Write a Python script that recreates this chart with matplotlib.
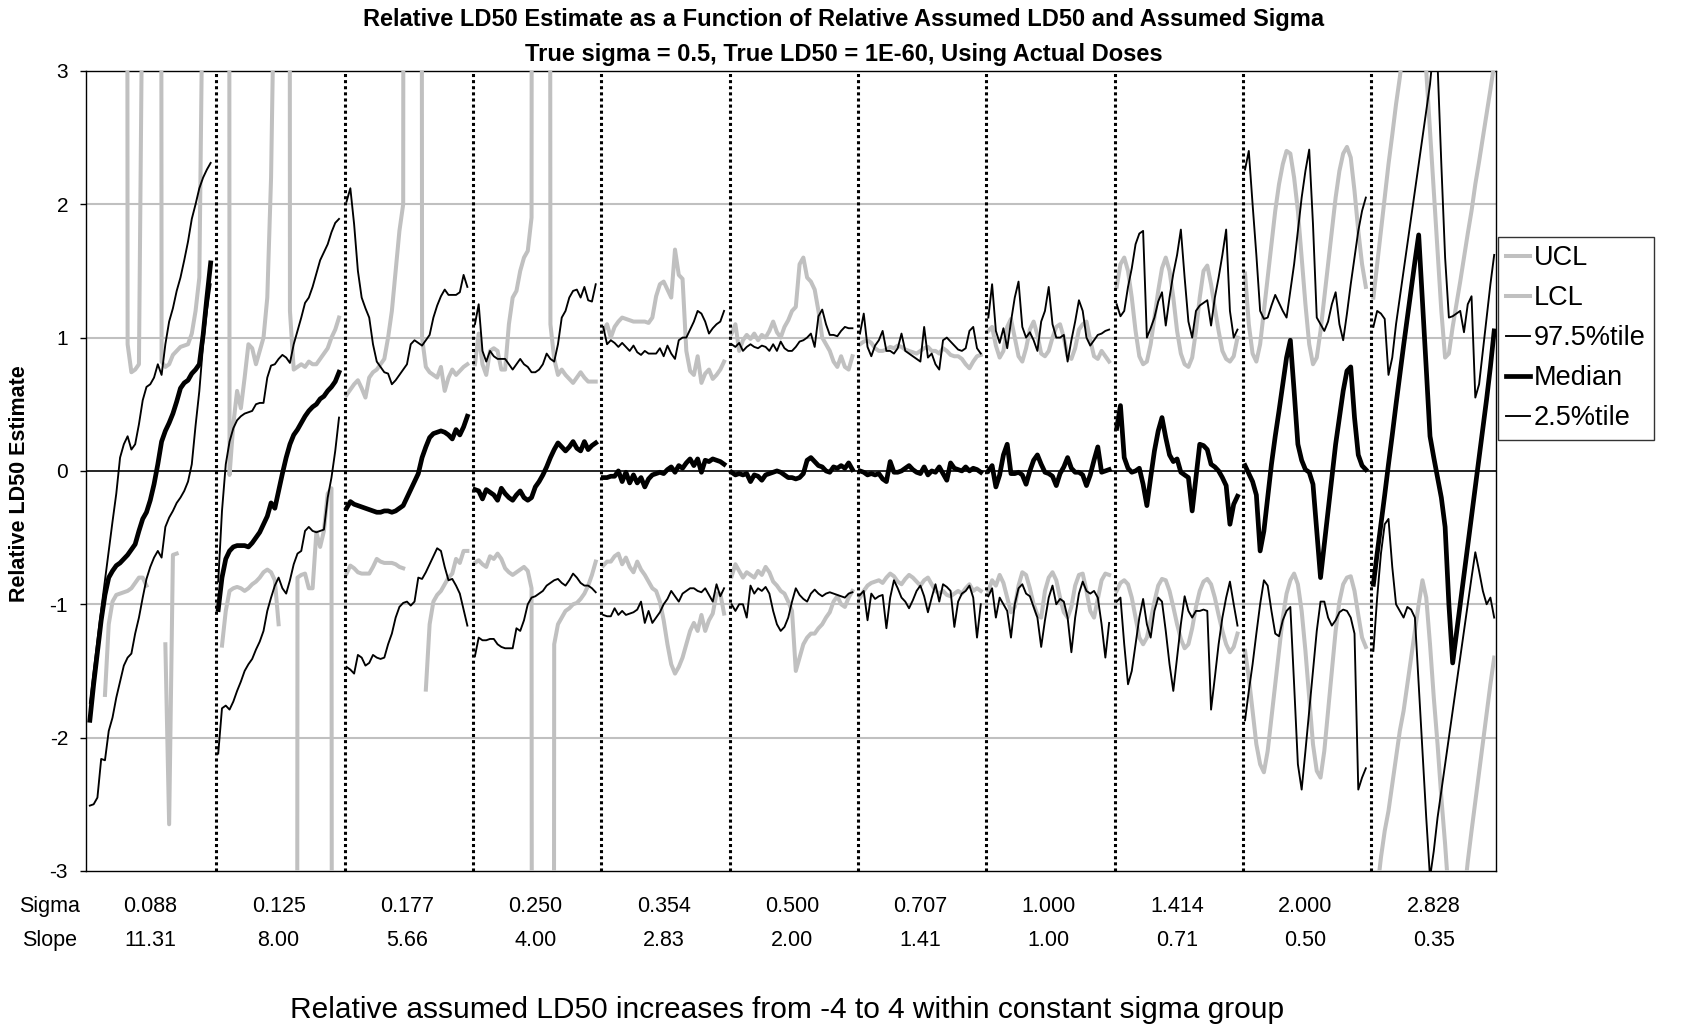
import numpy as np
import matplotlib.pyplot as plt

plt.rcParams['font.family'] = ['Liberation Sans', 'DejaVu Sans']
plt.rcParams['axes.unicode_minus'] = False

nan = np.nan
OFF = 40  # value well outside the +-3 axis, line gets clipped

sigma_labels = ["0.088", "0.125", "0.177", "0.250", "0.354", "0.500",
                "0.707", "1.000", "1.414", "2.000", "2.828"]
slope_labels = ["11.31", "8.00", "5.66", "4.00", "2.83", "2.00",
                "1.41", "1.00", "0.71", "0.50", "0.35"]

# one list per sigma group, 33 assumed-LD50 steps (-4 .. 4)
ucl = [
    [OFF, OFF, OFF, OFF, OFF, OFF, OFF, OFF, OFF, OFF, 0.95, 0.74, 0.76, 0.8, 4, OFF, OFF, OFF, OFF, 0.82, 0.78, 0.8, 0.87, 0.9, 0.93, 0.94, 0.95, 1.03, 1.2, 1.45, 4, OFF, OFF],
    [OFF, OFF, 60, -0.03, 0.35, 0.6, 0.47, 0.7, 0.95, 0.92, 0.8, 0.9, 1.0, 1.3, 2.2, 4, OFF, OFF, 60, 1.2, 0.76, 0.78, 0.8, 0.78, 0.82, 0.8, 0.8, 0.84, 0.88, 0.92, 1.0, 1.06, 1.15],
    [0.57, 0.61, 0.65, 0.68, 0.62, 0.55, 0.7, 0.74, 0.76, 0.8, 0.84, 1.0, 1.2, 1.5, 1.8, 2.0, OFF, OFF, OFF, OFF, 1.0, 0.78, 0.74, 0.72, 0.7, 0.78, 0.6, 0.7, 0.76, 0.72, 0.75, 0.78, 0.8],
    [0.8, 1.03, 0.8, 0.72, 0.9, 0.92, 0.9, 0.76, 0.76, 1.1, 1.3, 1.35, 1.5, 1.6, 1.65, 1.9, OFF, OFF, OFF, OFF, 1.1, 0.84, 0.72, 0.76, 0.72, 0.69, 0.66, 0.7, 0.74, 0.7, 0.67, 0.67, 0.67],
    [1.05, 1.1, 1.0, 1.08, 1.12, 1.15, 1.14, 1.13, 1.12, 1.12, 1.12, 1.12, 1.11, 1.15, 1.31, 1.4, 1.42, 1.36, 1.3, 1.66, 1.47, 1.44, 0.9, 0.75, 0.72, 0.86, 0.66, 0.73, 0.76, 0.69, 0.72, 0.76, 0.82],
    [1.03, 1.1, 0.9, 0.98, 1.02, 0.99, 1.03, 0.98, 1.02, 1.0, 1.05, 1.12, 1.04, 1.0, 1.08, 1.13, 1.2, 1.23, 1.55, 1.6, 1.45, 1.42, 1.36, 1.2, 1.0, 0.95, 0.9, 0.82, 0.78, 0.86, 0.78, 0.76, 0.86],
    [0.95, 0.97, 0.98, 0.96, 0.92, 0.9, 0.9, 0.91, 0.93, 0.92, 0.94, 0.93, 0.91, 0.9, 0.89, 0.88, 0.9, 0.92, 0.93, 0.9, 0.9, 0.88, 0.92, 0.9, 0.87, 0.86, 0.86, 0.84, 0.8, 0.77, 0.82, 0.86, 0.87],
    [1.05, 1.08, 0.94, 0.85, 0.9, 1.08, 1.14, 1.0, 0.86, 0.82, 0.92, 1.06, 1.12, 1.02, 0.88, 0.86, 0.9, 1.0, 1.08, 1.1, 1.0, 0.86, 0.84, 0.92, 1.06, 1.1, 1.12, 0.98, 0.86, 0.84, 0.9, 0.86, 0.82],
    [1.38, 1.55, 1.6, 1.5, 1.3, 1.05, 0.86, 0.8, 0.82, 0.95, 1.15, 1.35, 1.52, 1.6, 1.5, 1.3, 1.05, 0.88, 0.8, 0.78, 0.85, 1.05, 1.3, 1.5, 1.54, 1.4, 1.22, 1.05, 0.9, 0.84, 0.82, 0.86, 1.0],
    [1.48, 1.1, 0.88, 0.82, 0.95, 1.2, 1.45, 1.7, 1.95, 2.15, 2.3, 2.4, 2.38, 2.2, 1.95, 1.6, 1.25, 0.95, 0.8, 0.85, 1.05, 1.3, 1.55, 1.8, 2.05, 2.25, 2.38, 2.43, 2.35, 2.1, 1.8, 1.55, 1.38],
    [1.3, 1.55, 1.8, 2.05, 2.3, 2.52, 2.75, 2.95, 3.2, 3.4, 3.6, 3.7, 3.7, 3.5, 3.0, 2.55, 2.1, 1.65, 1.2, 0.85, 0.88, 1.08, 1.25, 1.42, 1.6, 1.78, 1.95, 2.15, 2.32, 2.5, 2.68, 2.86, 3.05],
]
lcl = [
    [nan, nan, nan, nan, -1.68, -1.15, -0.98, -0.93, -0.92, -0.91, -0.9, -0.88, -0.84, -0.8, -0.8, -0.86, nan, nan, nan, nan, -1.3, -2.65, -0.63, -0.62, nan, nan, nan, nan, nan, nan, nan, nan, nan],
    [nan, -1.31, -1.05, -0.9, -0.88, -0.87, -0.88, -0.9, -0.88, -0.85, -0.83, -0.8, -0.76, -0.74, -0.76, -0.82, -1.15, nan, nan, nan, -OFF, -0.8, -0.78, -0.77, -0.88, -0.88, -0.46, -0.57, -0.45, -0.17, -0.13, -OFF, -OFF],
    [-0.77, -0.71, -0.73, -0.76, -0.77, -0.77, -0.77, -0.72, -0.66, -0.68, -0.69, -0.69, -0.69, -0.7, -0.72, -0.73, nan, nan, nan, nan, nan, -1.64, -1.15, -0.98, -0.93, -0.9, -0.85, -0.8, -0.77, -0.66, -0.69, -0.6, -0.6],
    [-0.69, -0.67, -0.7, -0.72, -0.64, -0.66, -0.62, -0.66, -0.73, -0.76, -0.78, -0.76, -0.74, -0.72, -0.75, -0.88, -OFF, -OFF, -OFF, -OFF, -OFF, -1.3, -1.15, -1.1, -1.05, -1.03, -1.0, -0.99, -0.96, -0.92, -0.86, -0.78, -0.68],
    [-0.71, -0.68, -0.68, -0.64, -0.62, -0.7, -0.65, -0.72, -0.76, -0.68, -0.74, -0.78, -0.83, -0.88, -0.9, -0.98, -1.12, -1.3, -1.45, -1.52, -1.47, -1.4, -1.3, -1.2, -1.14, -1.2, -1.08, -1.2, -1.12, -1.07, -0.92, -0.92, -1.07],
    [-0.79, -0.7, -0.75, -0.8, -0.76, -0.78, -0.8, -0.75, -0.78, -0.72, -0.76, -0.83, -0.86, -0.9, -0.92, -0.98, -1.05, -1.5, -1.4, -1.3, -1.25, -1.22, -1.22, -1.18, -1.15, -1.1, -1.06, -0.98, -0.94, -1.0, -1.02, -0.95, -0.9],
    [-0.95, -0.9, -0.86, -0.84, -0.83, -0.82, -0.84, -0.8, -0.77, -0.79, -0.83, -0.85, -0.81, -0.78, -0.8, -0.83, -0.86, -0.82, -0.8, -0.85, -0.9, -0.92, -0.9, -0.93, -0.94, -0.92, -0.9, -0.92, -0.88, -0.85, -0.9, -0.88, -0.9],
    [-0.9, -0.82, -0.86, -0.78, -0.84, -0.95, -1.06, -1.02, -0.86, -0.76, -0.78, -0.88, -1.0, -1.08, -1.1, -0.9, -0.8, -0.76, -0.82, -0.95, -1.06, -1.1, -1.02, -0.86, -0.78, -0.77, -0.9, -1.05, -1.1, -0.96, -0.82, -0.77, -0.78],
    [-0.9, -0.84, -0.82, -0.85, -0.95, -1.1, -1.25, -1.3, -1.25, -1.12, -0.98, -0.86, -0.81, -0.82, -0.9, -1.02, -1.15, -1.26, -1.33, -1.3, -1.18, -1.02, -0.9, -0.83, -0.81, -0.85, -0.95, -1.08, -1.2, -1.3, -1.36, -1.32, -1.22],
    [-1.35, -1.55, -1.8, -2.05, -2.2, -2.26, -2.1, -1.85, -1.6, -1.35, -1.1, -0.92, -0.82, -0.77, -0.85, -1.05, -1.35, -1.7, -2.05, -2.25, -2.3, -2.1, -1.8, -1.5, -1.2, -0.98, -0.85, -0.8, -0.79, -0.9, -1.08, -1.25, -1.32],
    [-3.35, -3.15, -2.9, -2.7, -2.55, -2.35, -2.15, -1.95, -1.8, -1.6, -1.4, -1.2, -1.0, -0.82, -0.95, -1.3, -1.7, -2.05, -2.45, -2.8, -3.2, -3.5, -3.6, -3.5, -3.2, -2.93, -2.7, -2.48, -2.26, -2.04, -1.82, -1.6, -1.4],
]
p975 = [
    [-1.74, -1.5, -1.27, -1.04, -0.82, -0.6, -0.38, -0.17, 0.1, 0.2, 0.26, 0.16, 0.2, 0.35, 0.53, 0.63, 0.65, 0.7, 0.8, 0.72, 0.95, 1.12, 1.22, 1.35, 1.45, 1.58, 1.72, 1.89, 2.0, 2.12, 2.2, 2.26, 2.31],
    [-0.83, -0.3, 0.05, 0.22, 0.32, 0.38, 0.41, 0.43, 0.44, 0.45, 0.5, 0.51, 0.51, 0.7, 0.79, 0.8, 0.84, 0.87, 0.85, 0.81, 0.95, 1.05, 1.15, 1.26, 1.3, 1.38, 1.48, 1.58, 1.64, 1.7, 1.79, 1.86, 1.89],
    [2.02, 2.12, 1.85, 1.5, 1.3, 1.22, 1.15, 0.95, 0.82, 0.78, 0.74, 0.73, 0.65, 0.68, 0.72, 0.76, 0.8, 0.95, 0.98, 0.96, 0.94, 0.98, 1.02, 1.15, 1.24, 1.31, 1.36, 1.32, 1.32, 1.32, 1.34, 1.47, 1.38],
    [1.1, 1.25, 0.9, 0.82, 0.9, 0.86, 0.84, 0.84, 0.84, 0.8, 0.76, 0.8, 0.84, 0.8, 0.78, 0.74, 0.74, 0.76, 0.8, 0.88, 0.84, 0.82, 0.95, 1.15, 1.2, 1.3, 1.35, 1.36, 1.3, 1.38, 1.28, 1.27, 1.4],
    [1.08, 0.95, 0.98, 0.96, 0.93, 0.96, 0.93, 0.9, 0.94, 0.89, 0.87, 0.9, 0.88, 0.88, 0.88, 0.92, 0.86, 0.94, 0.88, 0.84, 0.98, 1.0, 1.0, 1.06, 1.12, 1.2, 1.18, 1.12, 1.03, 1.07, 1.1, 1.12, 1.2],
    [0.95, 0.93, 0.96, 0.9, 0.93, 0.95, 0.93, 0.92, 0.94, 0.93, 0.9, 0.95, 0.9, 0.97, 0.92, 0.9, 0.9, 0.93, 0.97, 0.98, 1.0, 1.03, 0.93, 1.16, 1.21, 1.1, 1.02, 1.02, 1.01, 1.05, 1.08, 1.07, 1.07],
    [1.03, 1.18, 0.93, 0.86, 0.94, 0.98, 1.05, 0.9, 0.9, 0.88, 0.92, 1.03, 0.9, 0.88, 0.86, 0.84, 0.82, 1.08, 0.85, 0.88, 0.8, 0.76, 0.98, 1.0, 0.97, 0.94, 0.91, 0.9, 0.92, 1.05, 1.08, 0.92, 0.88],
    [1.15, 1.4, 1.05, 0.96, 1.07, 0.92, 1.12, 1.3, 1.42, 1.08, 1.0, 1.04, 0.98, 0.9, 1.12, 1.2, 1.38, 1.1, 1.0, 1.0, 1.02, 0.82, 0.98, 1.12, 1.28, 1.2, 1.0, 0.94, 0.98, 1.02, 1.03, 1.05, 1.06],
    [1.25, 1.16, 1.2, 1.38, 1.52, 1.7, 1.78, 1.8, 1.0, 1.07, 1.15, 1.27, 1.34, 1.09, 1.3, 1.48, 1.62, 1.81, 1.45, 1.12, 1.0, 1.2, 1.24, 1.26, 1.28, 1.09, 1.3, 1.45, 1.62, 1.81, 1.2, 1.0, 1.06],
    [2.26, 2.4, 2.0, 1.62, 1.2, 1.14, 1.15, 1.24, 1.32, 1.26, 1.2, 1.15, 1.35, 1.55, 1.8, 2.05, 2.25, 2.41, 1.85, 1.15, 1.1, 1.05, 1.12, 1.25, 1.34, 1.1, 0.98, 1.18, 1.4, 1.6, 1.8, 1.95, 2.05],
    [1.08, 1.2, 1.18, 1.14, 0.72, 0.85, 1.1, 1.3, 1.5, 1.7, 1.9, 2.1, 2.3, 2.5, 2.7, 2.9, 3.2, 3.05, 2.3, 1.6, 1.15, 1.16, 1.18, 1.2, 1.04, 1.25, 1.31, 0.55, 0.65, 0.9, 1.15, 1.4, 1.62],
]
median = [
    [-1.87, -1.6, -1.36, -1.12, -0.93, -0.8, -0.75, -0.71, -0.69, -0.66, -0.63, -0.59, -0.55, -0.45, -0.36, -0.31, -0.22, -0.1, 0.05, 0.22, 0.3, 0.36, 0.43, 0.52, 0.62, 0.66, 0.68, 0.73, 0.76, 0.8, 1.02, 1.3, 1.56],
    [-1.04, -0.8, -0.66, -0.6, -0.57, -0.56, -0.56, -0.56, -0.57, -0.54, -0.5, -0.46, -0.4, -0.34, -0.24, -0.28, -0.15, -0.02, 0.1, 0.2, 0.27, 0.31, 0.36, 0.41, 0.45, 0.48, 0.5, 0.54, 0.56, 0.6, 0.63, 0.67, 0.74],
    [-0.28, -0.23, -0.25, -0.26, -0.27, -0.28, -0.29, -0.3, -0.31, -0.31, -0.3, -0.3, -0.31, -0.3, -0.28, -0.26, -0.2, -0.14, -0.08, -0.02, 0.1, 0.18, 0.25, 0.28, 0.29, 0.3, 0.29, 0.27, 0.24, 0.31, 0.27, 0.33, 0.41],
    [-0.14, -0.15, -0.21, -0.14, -0.16, -0.18, -0.22, -0.13, -0.17, -0.2, -0.22, -0.18, -0.15, -0.2, -0.22, -0.2, -0.12, -0.08, -0.03, 0.03, 0.1, 0.16, 0.21, 0.18, 0.15, 0.18, 0.22, 0.17, 0.15, 0.22, 0.16, 0.19, 0.21],
    [-0.05, -0.05, -0.04, -0.04, 0.0, -0.08, -0.01, -0.09, -0.03, -0.09, -0.05, -0.12, -0.06, -0.03, -0.02, -0.01, -0.02, 0.01, 0.03, -0.01, 0.04, 0.02, 0.06, 0.09, 0.04, 0.09, -0.01, 0.08, 0.07, 0.09, 0.08, 0.07, 0.05],
    [-0.01, -0.03, -0.02, -0.03, -0.02, -0.08, -0.03, -0.04, -0.07, -0.03, -0.02, -0.01, 0.0, -0.01, -0.03, -0.05, -0.05, -0.06, -0.05, -0.02, 0.08, 0.1, 0.07, 0.04, 0.03, 0.0, -0.01, 0.03, 0.02, 0.04, 0.02, 0.06, 0.01],
    [0.0, -0.01, -0.03, -0.02, -0.03, -0.02, -0.06, -0.08, 0.07, -0.01, -0.01, 0.0, 0.02, 0.04, 0.01, -0.01, -0.02, 0.03, -0.03, 0.0, -0.01, 0.03, -0.02, -0.07, 0.06, 0.02, 0.01, 0.0, 0.03, 0.0, 0.02, 0.01, -0.01],
    [0.0, 0.04, -0.12, -0.03, 0.12, 0.2, -0.02, -0.02, -0.01, -0.03, -0.1, 0.0, 0.08, 0.12, 0.05, -0.01, -0.02, -0.04, -0.11, -0.02, 0.03, 0.1, 0.02, -0.01, -0.01, -0.03, -0.11, -0.03, 0.08, 0.18, -0.01, 0.0, 0.01],
    [0.32, 0.49, 0.1, 0.02, -0.01, 0.0, 0.02, -0.1, -0.26, -0.05, 0.15, 0.3, 0.4, 0.25, 0.12, 0.07, 0.09, -0.01, -0.03, -0.05, -0.3, -0.05, 0.2, 0.19, 0.16, 0.05, 0.03, 0.0, -0.05, -0.11, -0.4, -0.25, -0.19],
    [0.04, -0.02, -0.08, -0.18, -0.6, -0.45, -0.2, 0.05, 0.26, 0.45, 0.65, 0.85, 0.98, 0.6, 0.2, 0.08, 0.01, -0.01, -0.1, -0.45, -0.8, -0.55, -0.3, -0.05, 0.2, 0.4, 0.6, 0.75, 0.78, 0.4, 0.12, 0.04, 0.01],
    [-0.85, -0.62, -0.4, -0.18, 0.05, 0.27, 0.5, 0.72, 0.94, 1.15, 1.36, 1.57, 1.77, 1.27, 0.77, 0.26, 0.1, -0.05, -0.2, -0.42, -1.0, -1.44, -1.22, -1.0, -0.78, -0.56, -0.34, -0.12, 0.1, 0.32, 0.54, 0.78, 1.05],
]
p025 = [
    [-2.51, -2.5, -2.45, -2.16, -2.17, -1.95, -1.85, -1.7, -1.58, -1.46, -1.4, -1.37, -1.22, -1.1, -0.95, -0.81, -0.72, -0.65, -0.6, -0.65, -0.42, -0.35, -0.3, -0.24, -0.2, -0.15, -0.08, 0.05, 0.34, 0.6, 0.95, 1.2, 1.4],
    [-2.12, -1.78, -1.76, -1.79, -1.73, -1.65, -1.58, -1.5, -1.45, -1.41, -1.34, -1.28, -1.2, -1.05, -0.95, -0.86, -0.8, -0.88, -0.92, -0.82, -0.7, -0.62, -0.6, -0.45, -0.42, -0.45, -0.46, -0.45, -0.44, -0.2, -0.05, 0.15, 0.4],
    [-1.47, -1.49, -1.52, -1.38, -1.4, -1.46, -1.44, -1.38, -1.4, -1.41, -1.4, -1.3, -1.22, -1.1, -1.02, -0.99, -0.98, -1.01, -0.98, -0.8, -0.81, -0.76, -0.7, -0.64, -0.58, -0.6, -0.72, -0.82, -0.81, -0.86, -0.92, -1.04, -1.16],
    [-1.39, -1.25, -1.27, -1.27, -1.26, -1.26, -1.3, -1.32, -1.33, -1.33, -1.33, -1.18, -1.2, -1.12, -1.0, -0.95, -0.94, -0.92, -0.9, -0.86, -0.84, -0.82, -0.81, -0.84, -0.86, -0.82, -0.77, -0.8, -0.84, -0.86, -0.86, -0.88, -0.91],
    [-1.08, -1.09, -1.09, -1.03, -1.08, -1.05, -1.08, -1.07, -1.06, -1.04, -0.98, -1.14, -1.05, -1.14, -1.1, -1.06, -1.0, -0.96, -0.9, -0.94, -0.98, -0.92, -0.9, -0.88, -0.88, -0.9, -0.91, -0.88, -0.93, -0.98, -0.85, -0.94, -0.88],
    [-1.0, -1.05, -1.0, -1.0, -1.1, -0.86, -0.92, -0.88, -0.9, -0.87, -0.92, -1.05, -1.15, -1.2, -1.17, -1.1, -0.98, -0.88, -0.93, -0.96, -0.98, -0.92, -0.89, -0.92, -0.94, -0.92, -0.91, -0.92, -0.93, -0.94, -0.95, -0.92, -0.91],
    [-0.93, -0.9, -1.12, -0.92, -0.96, -0.94, -0.93, -1.18, -0.95, -0.82, -0.88, -0.95, -0.98, -1.03, -0.97, -0.9, -0.86, -0.94, -1.06, -0.95, -0.85, -0.98, -0.85, -0.87, -0.9, -1.17, -0.98, -0.92, -0.9, -0.86, -0.95, -1.25, -1.0],
    [-0.94, -0.88, -1.1, -0.95, -1.0, -1.05, -1.25, -1.0, -0.88, -0.85, -0.92, -0.94, -1.02, -1.1, -1.32, -1.12, -0.95, -0.86, -1.0, -0.96, -0.98, -1.1, -1.36, -1.1, -0.92, -0.83, -0.9, -0.92, -0.9, -0.95, -1.15, -1.4, -1.14],
    [-0.98, -0.95, -1.3, -1.6, -1.5, -1.3, -1.1, -0.96, -1.15, -1.25, -1.05, -0.95, -0.98, -1.2, -1.45, -1.65, -1.4, -1.15, -0.94, -1.05, -1.1, -1.05, -1.05, -1.04, -1.05, -1.79, -1.55, -1.3, -1.1, -0.95, -0.83, -1.0, -1.16],
    [-1.87, -1.65, -1.45, -1.22, -1.0, -0.82, -0.86, -1.05, -1.22, -1.24, -1.12, -1.05, -1.02, -1.6, -2.2, -2.39, -2.1, -1.8, -1.5, -1.2, -0.98, -0.98, -1.1, -1.16, -1.12, -1.06, -1.04, -1.05, -1.1, -1.22, -2.39, -2.3, -2.23],
    [-1.35, -0.95, -0.62, -0.4, -0.36, -0.72, -1.0, -1.05, -1.1, -1.02, -1.04, -1.1, -1.6, -2.1, -2.6, -3.05, -2.85, -2.6, -2.4, -2.2, -2.0, -1.8, -1.6, -1.4, -1.2, -1.0, -0.8, -0.61, -0.75, -0.9, -1.0, -0.95, -1.1],
]

n_pts = 33
step = n_pts + 1  # one empty category between groups
gray = '#c0c0c0'

fig = plt.figure(figsize=(16.88, 10.29), dpi=100)
ax = fig.add_axes([0.051, 0.1536, 0.8353, 0.7775])

series = [
    (ucl, 'UCL', gray, 2.9),
    (lcl, 'LCL', gray, 2.9),
    (p975, '97.5%tile', 'black', 1.35),
    (median, 'Median', 'black', 3.4),
    (p025, '2.5%tile', 'black', 1.35),
]
for data, name, col, lw in series:
    for g in range(len(sigma_labels)):
        x = g * step + 1 + np.arange(n_pts)
        ax.plot(x, data[g], color=col, lw=lw, solid_joinstyle='round',
                label=name if g == 0 else None, zorder=3)

for g in range(1, len(sigma_labels)):
    ax.axvline(g * step + 0.5, color='black', lw=2.2, linestyle=(0, (1, 1)), zorder=4)

for v in [-2, -1, 1, 2]:
    ax.axhline(v, color=gray, lw=1.5, zorder=1)
ax.axhline(0, color='black', lw=1.2, zorder=2)

ax.set_xlim(0, len(sigma_labels) * step - 0.5)
ax.set_ylim(-3, 3)
ax.set_xticks([])
ax.set_yticks(range(-3, 4))
ax.tick_params(axis='y', direction='out', length=4, width=1, pad=9, labelsize=15)
for s in ax.spines.values():
    s.set_color('black')
    s.set_linewidth(1)

# sigma / slope rows under the plot
for g in range(len(sigma_labels)):
    xc = g * step + (n_pts + 1) / 2
    ax.text(xc, -3.27, sigma_labels[g], ha='center', va='center', fontsize=15.5)
    ax.text(xc, -3.525, slope_labels[g], ha='center', va='center', fontsize=15.5)
ax.text(-0.026, -3.27, 'Sigma', transform=ax.get_yaxis_transform(), ha='center', va='center', fontsize=15.5)
ax.text(-0.026, -3.525, 'Slope', transform=ax.get_yaxis_transform(), ha='center', va='center', fontsize=15.5)

fig.text(0.5, 0.981, 'Relative LD50 Estimate as a Function of Relative Assumed LD50 and Assumed Sigma',
         ha='center', va='center', fontsize=17, fontweight='bold')
fig.text(0.5, 0.9466, 'True sigma = 0.5, True LD50 = 1E-60, Using Actual Doses',
         ha='center', va='center', fontsize=17, fontweight='bold')
fig.text(0.0113, 0.53, 'Relative LD50 Estimate', rotation=90, ha='center', va='center',
         fontsize=15.5, fontweight='bold')
fig.text(0.466, 0.0185, 'Relative assumed LD50 increases from -4 to 4 within constant sigma group',
         ha='center', va='center', fontsize=21.5)

leg = ax.legend(loc='upper left', bbox_to_anchor=(0.8874, 0.7697), bbox_transform=fig.transFigure,
                fontsize=19.5, frameon=True, fancybox=False, edgecolor='black',
                handlelength=0.9, handletextpad=0.12, labelspacing=0.52, borderpad=0.3,
                borderaxespad=0)
leg.get_frame().set_linewidth(1)

fig.savefig('out.png', dpi=100)
